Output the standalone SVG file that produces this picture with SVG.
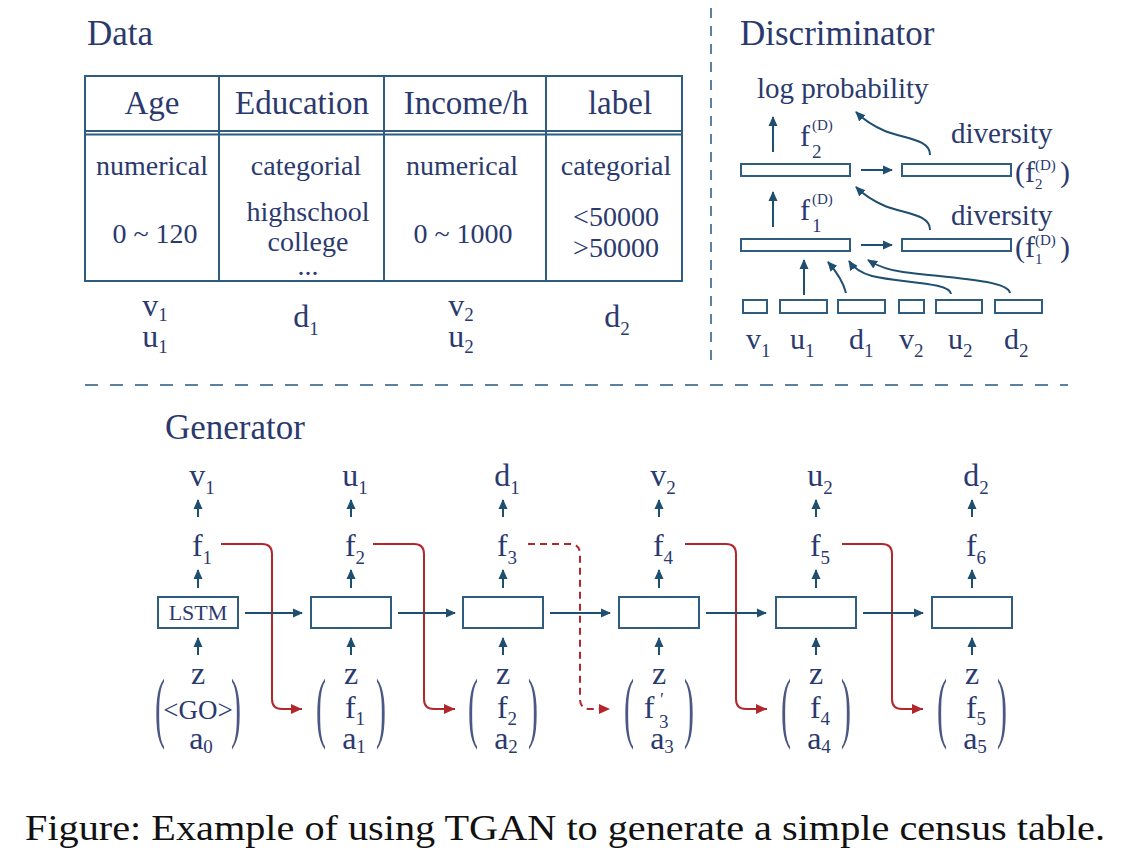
<svg xmlns="http://www.w3.org/2000/svg" width="1126" height="862" viewBox="0 0 1126 862" font-family="'Liberation Serif', 'Times New Roman', serif">
<style>
text, tspan{font-family:"Liberation Serif","Times New Roman",serif}
text{fill:#2b3a6e}
.t{font-size:35px}
.h{font-size:33px;text-anchor:middle}
.c{font-size:28px;text-anchor:middle}
.v{font-size:32px;text-anchor:middle}
.s{font-size:19px}
.d{font-size:29px}
.dl{font-size:30px}
.sm{font-size:15px}
.ln{fill:none;stroke:#2f5d80;stroke-width:2}
.box{fill:#fff;stroke:#2f5d80;stroke-width:2}
.ar{fill:none;stroke:#1f4f70;stroke-width:2;marker-end:url(#ab)}
.rd{fill:none;stroke:#b0282c;stroke-width:2;marker-end:url(#ar)}
.par{font-size:30px;fill-opacity:0.85}
.cap{font-size:36px;fill:#111}
</style>
<defs>
<marker id="ab" markerUnits="userSpaceOnUse" markerWidth="10" markerHeight="10" refX="9" refY="5" orient="auto" viewBox="0 0 10 10"><path d="M0,0.5 L10,5 L0,9.5 z" fill="#1f4f70"/></marker>
<marker id="ar" markerUnits="userSpaceOnUse" markerWidth="11" markerHeight="11" refX="10" refY="5" orient="auto" viewBox="0 0 10 10"><path d="M0,0.5 L10,5 L0,9.5 z" fill="#b0282c"/></marker>
</defs>
<rect width="1126" height="862" fill="#fff"/>

<g id="separators">
<line x1="711" y1="8" x2="711" y2="362" stroke="#5a82a0" stroke-width="2" stroke-dasharray="10,8"/>
<line x1="85" y1="385" x2="1068" y2="385" stroke="#5a82a0" stroke-width="2" stroke-dasharray="13,12"/>
</g>

<g id="data">
<text class="t" x="87" y="45">Data</text>
<rect class="ln" x="85" y="76" width="597" height="205"/>
<line class="ln" x1="85" y1="131" x2="682" y2="131" stroke-width="1.6"/>
<line class="ln" x1="85" y1="134.5" x2="682" y2="134.5" stroke-width="1.6"/>
<line class="ln" x1="219" y1="76" x2="219" y2="281"/>
<line class="ln" x1="384" y1="76" x2="384" y2="281"/>
<line class="ln" x1="546" y1="76" x2="546" y2="281"/>
<text class="h" x="152" y="114">Age</text>
<text class="h" x="302" y="114">Education</text>
<text class="h" x="466" y="114">Income/h</text>
<text class="h" x="620" y="114">label</text>
<text class="c" x="152" y="175">numerical</text>
<text class="c" x="306" y="175">categorial</text>
<text class="c" x="462" y="175">numerical</text>
<text class="c" x="616" y="175">categorial</text>
<text class="c" x="155" y="243">0 ~ 120</text>
<text class="c" x="308" y="221">highschool</text>
<text class="c" x="308" y="251">college</text>
<text class="c" x="308" y="275" font-size="22">...</text>
<text class="c" x="463" y="243">0 ~ 1000</text>
<text class="c" x="616" y="226">&lt;50000</text>
<text class="c" x="616" y="257">&gt;50000</text>
<text class="v" x="155" y="316">v<tspan class="s" dy="5">1</tspan></text>
<text class="v" x="155" y="347">u<tspan class="s" dy="6">1</tspan></text>
<text class="v" x="306" y="327">d<tspan class="s" dy="8">1</tspan></text>
<text class="v" x="461" y="316">v<tspan class="s" dy="5">2</tspan></text>
<text class="v" x="461" y="347">u<tspan class="s" dy="6">2</tspan></text>
<text class="v" x="617" y="327">d<tspan class="s" dy="8">2</tspan></text>
</g>

<g id="discriminator">
<text class="t" x="740" y="45">Discriminator</text>
<text class="d" x="757" y="98">log probability</text>
<text class="dl" x="800" y="146">f</text>
<text class="sm" x="812" y="130">(D)</text>
<text class="s" x="812" y="158">2</text>
<text class="dl" x="800" y="220">f</text>
<text class="sm" x="812" y="204">(D)</text>
<text class="s" x="812" y="232">1</text>
<text class="d" x="951" y="143">diversity</text>
<text class="d" x="951" y="225">diversity</text>
<text class="dl" x="1015" y="182" font-size="26">(f</text>
<text class="sm" x="1035" y="170">(D)</text>
<text class="sm" x="1035" y="189">2</text>
<text class="dl" x="1060" y="182" font-size="26">)</text>
<text class="dl" x="1015" y="257" font-size="26">(f</text>
<text class="sm" x="1035" y="245">(D)</text>
<text class="sm" x="1035" y="264">1</text>
<text class="dl" x="1060" y="257" font-size="26">)</text>
<rect class="box" x="741" y="164" width="109" height="12" stroke-width="1.8"/>
<rect class="box" x="902" y="164" width="109" height="12" stroke-width="1.8"/>
<rect class="box" x="741" y="239" width="109" height="12" stroke-width="1.8"/>
<rect class="box" x="902" y="239" width="109" height="12" stroke-width="1.8"/>
<rect class="box" x="743" y="300" width="24" height="13" stroke-width="1.8"/>
<rect class="box" x="780" y="300" width="47" height="13" stroke-width="1.8"/>
<rect class="box" x="838" y="300" width="47" height="13" stroke-width="1.8"/>
<rect class="box" x="899" y="300" width="25" height="13" stroke-width="1.8"/>
<rect class="box" x="936" y="300" width="46" height="13" stroke-width="1.8"/>
<rect class="box" x="995" y="300" width="47" height="13" stroke-width="1.8"/>
<text class="dl" x="746" y="349">v<tspan class="s" dy="8">1</tspan></text>
<text class="dl" x="790" y="349">u<tspan class="s" dy="8">1</tspan></text>
<text class="dl" x="849" y="349">d<tspan class="s" dy="8">1</tspan></text>
<text class="dl" x="899" y="349">v<tspan class="s" dy="8">2</tspan></text>
<text class="dl" x="948" y="349">u<tspan class="s" dy="8">2</tspan></text>
<text class="dl" x="1004" y="349">d<tspan class="s" dy="8">2</tspan></text>
</g>

<g id="generator">
<text class="t" x="165" y="439">Generator</text>
<g id="col1">
<text class="v" x="202" y="486">v<tspan class="s" dy="8">1</tspan></text>
<text class="v" x="202" y="556">f<tspan class="s" dy="8">1</tspan></text>
<rect class="box" x="158" y="597" width="80" height="31"/>
<text x="198" y="620" font-size="22" text-anchor="middle">LSTM</text>
<text class="v" x="198" y="684">z</text>
<text x="198" y="719" font-size="27" text-anchor="middle">&lt;GO&gt;</text>
<text class="v" x="201" y="749">a<tspan class="s" dy="4">0</tspan></text>
<text class="par" x="155" y="0" transform="matrix(1 0 0 2.6 0 733)">(</text>
<text class="par" x="241" y="0" text-anchor="end" transform="matrix(1 0 0 2.6 0 733)">)</text>
</g>
<g id="col2">
<text class="v" x="355" y="486">u<tspan class="s" dy="8">1</tspan></text>
<text class="v" x="355" y="556">f<tspan class="s" dy="8">2</tspan></text>
<rect class="box" x="311" y="597" width="80" height="31"/>
<text class="v" x="351" y="684">z</text>
<text class="v" x="355" y="718">f<tspan class="s" dy="7">1</tspan></text>
<text class="v" x="354" y="749">a<tspan class="s" dy="4">1</tspan></text>
<text class="par" x="316" y="0" transform="matrix(1 0 0 2.6 0 733)">(</text>
<text class="par" x="386" y="0" text-anchor="end" transform="matrix(1 0 0 2.6 0 733)">)</text>
</g>
<g id="col3">
<text class="v" x="507" y="486">d<tspan class="s" dy="8">1</tspan></text>
<text class="v" x="507" y="556">f<tspan class="s" dy="8">3</tspan></text>
<rect class="box" x="463" y="597" width="80" height="31"/>
<text class="v" x="503" y="684">z</text>
<text class="v" x="507" y="718">f<tspan class="s" dy="7">2</tspan></text>
<text class="v" x="506" y="749">a<tspan class="s" dy="4">2</tspan></text>
<text class="par" x="468" y="0" transform="matrix(1 0 0 2.6 0 733)">(</text>
<text class="par" x="538" y="0" text-anchor="end" transform="matrix(1 0 0 2.6 0 733)">)</text>
</g>
<g id="col4">
<text class="v" x="663" y="486">v<tspan class="s" dy="8">2</tspan></text>
<text class="v" x="663" y="556">f<tspan class="s" dy="8">4</tspan></text>
<rect class="box" x="619" y="597" width="80" height="31"/>
<text class="v" x="659" y="684">z</text>
<text class="v" x="649" y="718">f</text>
<text x="660" y="706" font-size="18">′</text>
<text class="s" x="659" y="728">3</text>
<text class="v" x="662" y="749">a<tspan class="s" dy="4">3</tspan></text>
<text class="par" x="624" y="0" transform="matrix(1 0 0 2.6 0 733)">(</text>
<text class="par" x="694" y="0" text-anchor="end" transform="matrix(1 0 0 2.6 0 733)">)</text>
</g>
<g id="col5">
<text class="v" x="820" y="486">u<tspan class="s" dy="8">2</tspan></text>
<text class="v" x="820" y="556">f<tspan class="s" dy="8">5</tspan></text>
<rect class="box" x="776" y="597" width="80" height="31"/>
<text class="v" x="816" y="684">z</text>
<text class="v" x="820" y="718">f<tspan class="s" dy="7">4</tspan></text>
<text class="v" x="819" y="749">a<tspan class="s" dy="4">4</tspan></text>
<text class="par" x="781" y="0" transform="matrix(1 0 0 2.6 0 733)">(</text>
<text class="par" x="851" y="0" text-anchor="end" transform="matrix(1 0 0 2.6 0 733)">)</text>
</g>
<g id="col6">
<text class="v" x="976" y="486">d<tspan class="s" dy="8">2</tspan></text>
<text class="v" x="976" y="556">f<tspan class="s" dy="8">6</tspan></text>
<rect class="box" x="932" y="597" width="80" height="31"/>
<text class="v" x="972" y="684">z</text>
<text class="v" x="976" y="718">f<tspan class="s" dy="7">5</tspan></text>
<text class="v" x="975" y="749">a<tspan class="s" dy="4">5</tspan></text>
<text class="par" x="937" y="0" transform="matrix(1 0 0 2.6 0 733)">(</text>
<text class="par" x="1007" y="0" text-anchor="end" transform="matrix(1 0 0 2.6 0 733)">)</text>
</g>
</g>

<g id="connectors">
<path class="ar" d="M773,152 V117"/>
<path class="ar" d="M773,227 V192"/>
<path class="ar" d="M861,170 H892"/>
<path class="ar" d="M861,245 H892"/>
<path class="ar" d="M930,155 C930,139 905,139 885,131 C871,125 862,118 856,112"/>
<path class="ar" d="M930,230 C930,214 905,214 885,206 C871,200 862,193 856,187"/>
<path class="ar" d="M804,295 V260"/>
<path class="ar" d="M846,293 C843,281 835,270 828,262"/>
<path class="ar" d="M951,294 C950,282 900,283 872,276 C861,273 853,267 849,261"/>
<path class="ar" d="M1010,293 C1008,280 950,278 903,272 C887,270 876,265 868,260"/>
<path class="ar" d="M198,517 V500"/><path class="ar" d="M198,588 V570"/><path class="ar" d="M198,655 V638"/>
<path class="ar" d="M351,517 V500"/><path class="ar" d="M351,588 V570"/><path class="ar" d="M351,655 V638"/>
<path class="ar" d="M503,517 V500"/><path class="ar" d="M503,588 V570"/><path class="ar" d="M503,655 V638"/>
<path class="ar" d="M659,517 V500"/><path class="ar" d="M659,588 V570"/><path class="ar" d="M659,655 V638"/>
<path class="ar" d="M816,517 V500"/><path class="ar" d="M816,588 V570"/><path class="ar" d="M816,655 V638"/>
<path class="ar" d="M972,517 V500"/><path class="ar" d="M972,588 V570"/><path class="ar" d="M972,655 V638"/>
<path class="rd" d="M221,544 H262 Q272,544 272,554 V699 Q272,709 282,709 H302"/>
<path class="rd" d="M373,544 H414 Q424,544 424,554 V699 Q424,709 434,709 H455"/>
<path class="rd" d="M528,544 H570 Q580,544 580,554 V699 Q580,709 590,709 H610" stroke-dasharray="7,5"/>
<path class="rd" d="M685,544 H726 Q736,544 736,554 V699 Q736,709 746,709 H767"/>
<path class="rd" d="M842,544 H882 Q892,544 892,554 V699 Q892,709 902,709 H923"/>
<path class="ar" d="M245,613 H302"/>
<path class="ar" d="M398,613 H455"/>
<path class="ar" d="M550,613 H610"/>
<path class="ar" d="M706,613 H766"/>
<path class="ar" d="M863,613 H923"/>
</g>

<text class="cap" x="25" y="840" textLength="1080" lengthAdjust="spacingAndGlyphs">Figure: Example of using TGAN to generate a simple census table.</text>
</svg>
